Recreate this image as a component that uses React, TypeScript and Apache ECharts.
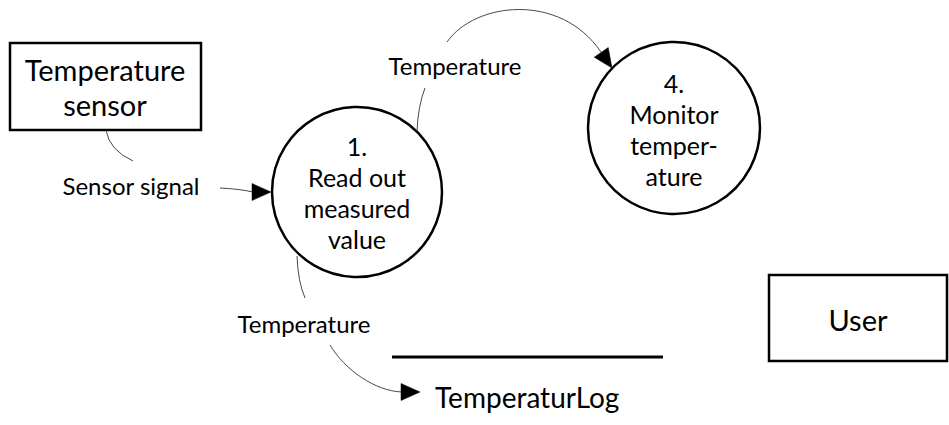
import React, { useEffect, useRef } from "react";
import * as echarts from "echarts";

// Diagram content (texts)
const entityLabels = ["Temperature\nsensor", "User"];
const processLabels = ["1.\nRead out\nmeasured\nvalue", "4.\nMonitor\ntemper-\nature"];
const flowLabels = ["Sensor signal", "Temperature", "Temperature"];
const storeLabels = ["TemperaturLog"];

const FONT = "Lato, 'Noto Sans', sans-serif";
const INK = "#000000";
const THIN = "#333333";

function arrowHead(tip: number[], from: number[], len = 19, half = 8.5) {
  const dx = tip[0] - from[0];
  const dy = tip[1] - from[1];
  const d = Math.hypot(dx, dy) || 1;
  const ux = dx / d, uy = dy / d;
  const bx = tip[0] - ux * len, by = tip[1] - uy * len;
  return {
    type: "polygon",
    shape: { points: [[tip[0], tip[1]], [bx - uy * half, by + ux * half], [bx + uy * half, by - ux * half]] },
    style: { fill: INK, stroke: INK, lineWidth: 0.5 },
  };
}

export default function App() {
  const ref = useRef<HTMLDivElement>(null);
  useEffect(() => {
    document.body.style.margin = "0";
    if (!ref.current) return;
    const chart = echarts.init(ref.current, undefined, { renderer: "svg" });
    const thin = { stroke: THIN, lineWidth: 0.9, fill: "none" };
    const elements: any[] = [
      // entity: temperature sensor
      { type: "rect", shape: { x: 10, y: 43, width: 191, height: 87 }, style: { fill: "#fff", stroke: INK, lineWidth: 2.5 } },
      { type: "text", x: 105, y: 87, style: { text: entityLabels[0], fontFamily: FONT, fontSize: 29, lineHeight: 35, align: "center", verticalAlign: "middle", fill: INK } },
      // entity: user
      { type: "rect", shape: { x: 769, y: 275, width: 178, height: 86 }, style: { fill: "#fff", stroke: INK, lineWidth: 2.5 } },
      { type: "text", x: 858, y: 319, style: { text: entityLabels[1], fontFamily: FONT, fontSize: 29, align: "center", verticalAlign: "middle", fill: INK } },
      // process 1
      { type: "circle", shape: { cx: 357, cy: 192, r: 85 }, style: { fill: "#fff", stroke: INK, lineWidth: 2.5 } },
      { type: "text", x: 357, y: 192, style: { text: processLabels[0], fontFamily: FONT, fontSize: 25, lineHeight: 31, align: "center", verticalAlign: "middle", fill: INK } },
      // process 4
      { type: "circle", shape: { cx: 674, cy: 128, r: 86 }, style: { fill: "#fff", stroke: INK, lineWidth: 2.5 } },
      { type: "text", x: 674, y: 129, style: { text: processLabels[1], fontFamily: FONT, fontSize: 25, lineHeight: 31, align: "center", verticalAlign: "middle", fill: INK } },
      // data store
      { type: "line", shape: { x1: 392, y1: 357, x2: 663, y2: 357 }, style: { stroke: INK, lineWidth: 3 } },
      { type: "text", x: 435, y: 397, style: { text: storeLabels[0], fontFamily: FONT, fontSize: 28, align: "left", verticalAlign: "middle", fill: INK } },
      // flow: sensor signal
      { type: "bezierCurve", shape: { x1: 106, y1: 130, cpx1: 109, cpy1: 150, x2: 133, y2: 161 }, style: thin },
      { type: "text", x: 131, y: 185, style: { text: flowLabels[0], fontFamily: FONT, fontSize: 24, align: "center", verticalAlign: "middle", fill: INK } },
      { type: "bezierCurve", shape: { x1: 220, y1: 188, cpx1: 240, cpy1: 189, x2: 253, y2: 192 }, style: thin },
      arrowHead([271, 192], [253, 192]),
      // flow: temperature to monitor
      { type: "bezierCurve", shape: { x1: 417, y1: 131, cpx1: 418, cpy1: 106, x2: 425, y2: 88 }, style: thin },
      { type: "text", x: 455, y: 65, style: { text: flowLabels[1], fontFamily: FONT, fontSize: 24, align: "center", verticalAlign: "middle", fill: INK } },
      { type: "bezierCurve", shape: { x1: 447, y1: 42, cpx1: 475, cpy1: 2, cpx2: 560, cpy2: -8, x2: 601, y2: 52 }, style: thin },
      arrowHead([612, 68], [601, 52]),
      // flow: temperature to log
      { type: "bezierCurve", shape: { x1: 297, y1: 256, cpx1: 298, cpy1: 282, x2: 305, y2: 298 }, style: thin },
      { type: "text", x: 304, y: 323, style: { text: flowLabels[2], fontFamily: FONT, fontSize: 24, align: "center", verticalAlign: "middle", fill: INK } },
      { type: "bezierCurve", shape: { x1: 330, y1: 345, cpx1: 345, cpy1: 370, cpx2: 375, cpy2: 391, x2: 402, y2: 392 }, style: thin },
      arrowHead([420, 392], [402, 392]),
    ];
    chart.setOption({ animation: false, backgroundColor: "#ffffff", graphic: { elements } });
    return () => chart.dispose();
  }, []);
  return <div ref={ref} style={{ position: "fixed", left: 0, top: 0, width: 949, height: 425 }} />;
}
